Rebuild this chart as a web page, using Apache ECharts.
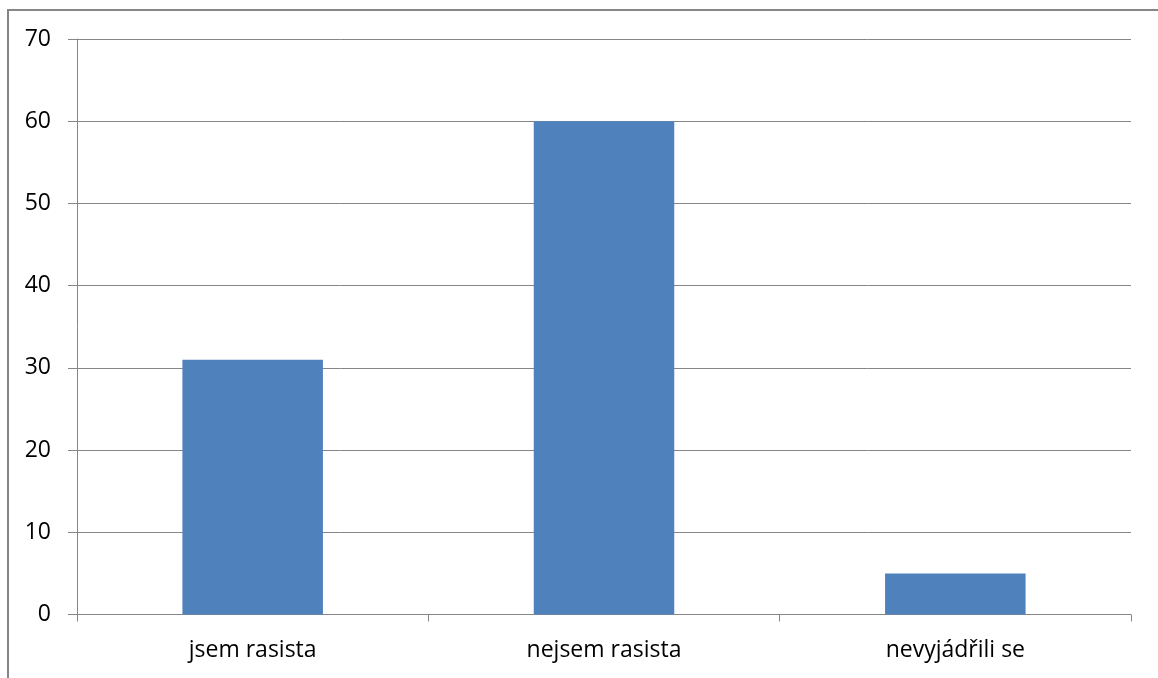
<!DOCTYPE html>
<html>
<head>
<meta charset="utf-8">
<script src="https://cdn.jsdelivr.net/npm/echarts@6/dist/echarts.min.js"></script>
<style>
html,body{margin:0;padding:0;background:#fff;}
#chart{width:1158px;height:678px;}
</style>
</head>
<body>
<div id="chart"></div>
<script>
const categories = ['jsem rasista', 'nejsem rasista', 'nevyjádřili se'];
const values = [31, 60, 5];
const yTicks = {min: 0, max: 70, interval: 10};

const chart = echarts.init(document.getElementById('chart'), null, {renderer: 'canvas'});
const font = '"Open Sans", sans-serif';
chart.setOption({
  animation: false,
  backgroundColor: '#ffffff',
  graphic: [{
    type: 'rect',
    shape: {x: 8, y: 10, width: 1300, height: 800},
    style: {fill: 'none', stroke: '#868686', lineWidth: 2},
    silent: true
  }],
  grid: {left: 77, right: 27, top: 39, bottom: 63.5, containLabel: false},
  xAxis: {
    type: 'category',
    data: categories,
    axisLine: {lineStyle: {color: '#868686', width: 1}},
    axisTick: {show: true, length: 7, alignWithLabel: false, lineStyle: {color: '#868686'}},
    axisLabel: {color: '#000', fontFamily: font, fontSize: 23, margin: 24}
  },
  yAxis: {
    type: 'value',
    min: yTicks.min, max: yTicks.max, interval: yTicks.interval,
    axisLine: {show: true, lineStyle: {color: '#868686', width: 1}},
    axisTick: {show: true, length: 9, lineStyle: {color: '#868686'}},
    splitLine: {show: true, lineStyle: {color: '#868686', width: 1}},
    axisLabel: {color: '#000', fontFamily: font, fontSize: 23, margin: 26}
  },
  series: [{
    type: 'bar',
    data: values,
    barWidth: '40%',
    itemStyle: {color: '#4F81BD'}
  }]
});
</script>
</body>
</html>
